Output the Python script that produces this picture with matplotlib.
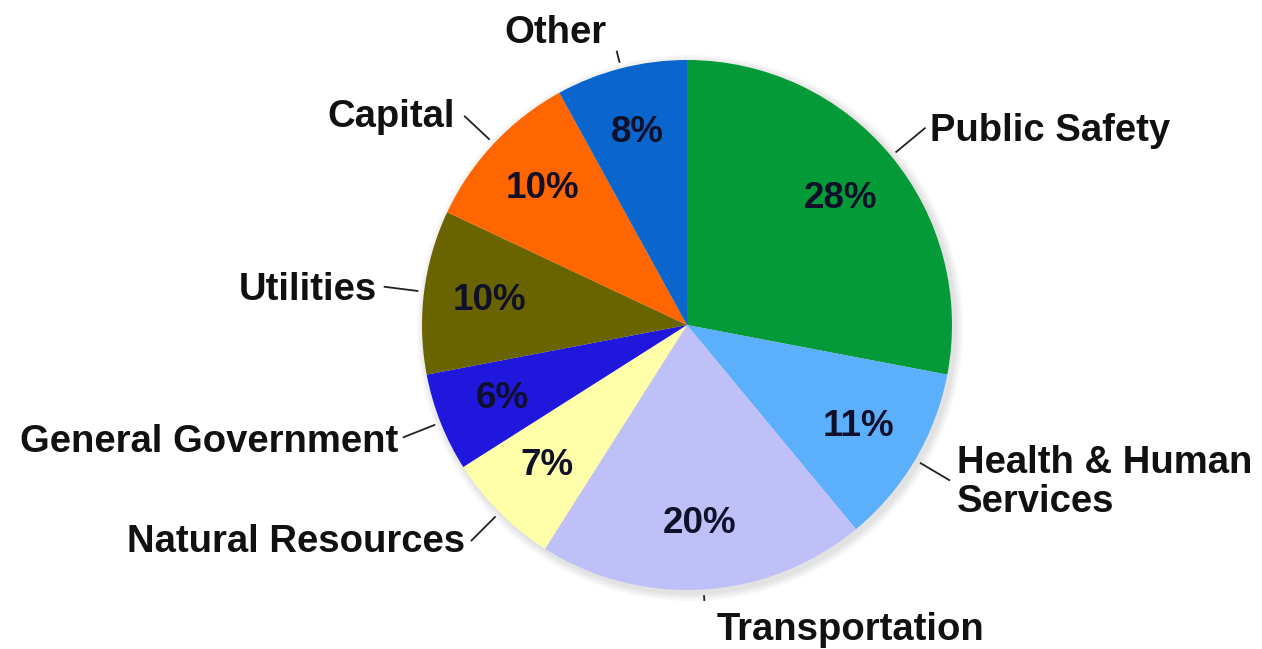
import matplotlib.pyplot as plt
import numpy as np
from matplotlib.patches import Circle

categories = ["Public Safety", "Health & Human\nServices", "Transportation",
              "Natural Resources", "General Government", "Utilities",
              "Capital", "Other"]
shares = [28, 11, 20, 7, 6, 10, 10, 8]
colors = ["#059a38", "#5cb0fb", "#c0c0f8", "#ffffaa", "#1f17db",
          "#6a6400", "#ff6600", "#0a66cc"]

# label layout in pixel coords (x, baseline y from top of last line, ha) and leader end radius
label_pos = [(930, 141, "left"), (957, 512, "left"), (717, 640, "left"),
             (465, 552, "right"), (398, 452, "right"), (377, 300, "right"),
             (455, 127, "right"), (607, 43, "right")]
leader_end = [1.165, 1.15, 1.04, 1.15, 1.15, 1.15, 1.15, 1.065]

W, H = 1262, 649
cx, cy, R = 687, H - 325, 265

plt.rcParams['font.family'] = ['Liberation Sans', 'DejaVu Sans']
fig = plt.figure(figsize=(12.62, 6.49), dpi=100)
ax = fig.add_axes([0, 0, 1, 1])

# soft shadow
for k, a in enumerate([0.05, 0.05, 0.06, 0.07]):
    ax.add_patch(Circle((cx + 3, cy - 3), R + 8 - 2 * k, color="#808080",
                        alpha=a, lw=0, zorder=0))

wedges, _, autotexts = ax.pie(
    shares, colors=colors, startangle=90, counterclock=False,
    center=(cx, cy), radius=R, autopct=lambda p: f"{p:.0f}%",
    pctdistance=0.75, wedgeprops=dict(linewidth=0), frame=True)
for t in autotexts:
    t.set_fontsize(26.5)
    t.set_fontweight("bold")
    t.set_color("#10102a")

for w, name, (tx, ty, ha), r2 in zip(wedges, categories, label_pos, leader_end):
    ang = np.deg2rad((w.theta1 + w.theta2) / 2)
    x1, y1 = cx + 1.025 * R * np.cos(ang), cy + 1.025 * R * np.sin(ang)
    x2, y2 = cx + r2 * R * np.cos(ang), cy + r2 * R * np.sin(ang)
    ax.plot([x1, x2], [y1, y2], color="#222222", lw=1.3, zorder=3)
    ax.text(tx, H - ty, name, ha=ha, va="baseline", fontsize=27.5,
            fontweight="bold", color="#111111", linespacing=1.12)

ax.set_xlim(0, W)
ax.set_ylim(0, H)
ax.set_aspect("equal")
ax.axis("off")
fig.savefig("out.png", dpi=100, facecolor="white")
